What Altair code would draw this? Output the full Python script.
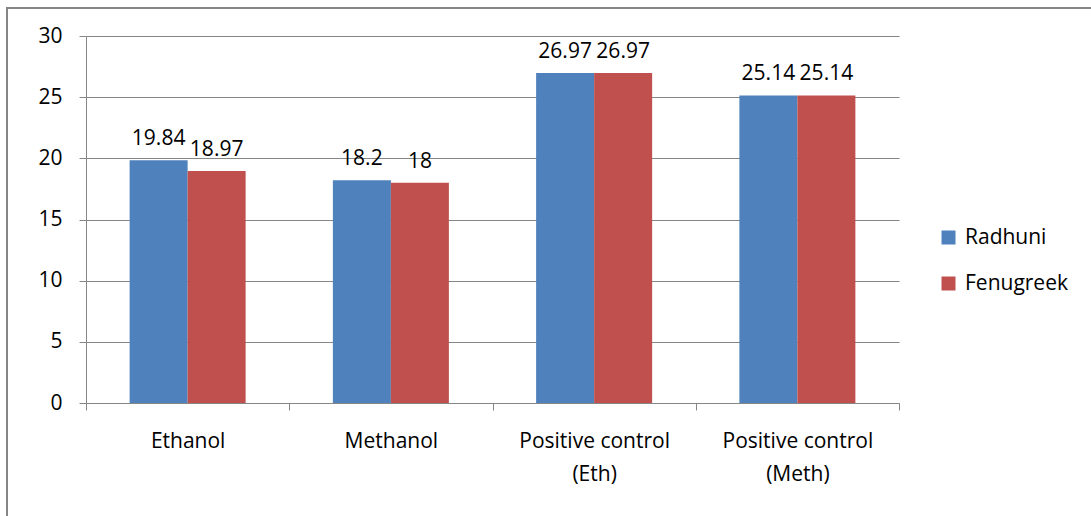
import altair as alt
import pandas as pd

# Inhibition zone values per extract and spice
categories = ["Ethanol", "Methanol", "Positive control|(Eth)", "Positive control|(Meth)"]
series = ["Radhuni", "Fenugreek"]
radhuni = [19.84, 18.2, 26.97, 25.14]
fenugreek = [18.97, 18, 26.97, 25.14]
y_ticks = [0, 5, 10, 15, 20, 25, 30]
colors = ["#4F81BD", "#C0504D"]

rows = []
for c, r, f in zip(categories, radhuni, fenugreek):
    rows.append({"cat": c, "series": series[0], "value": r, "label": f"{r:g}"})
    rows.append({"cat": c, "series": series[1], "value": f, "label": f"{f:g}"})
df = pd.DataFrame(rows)

FONT = "Open Sans"
FS = 21
W, H = 813, 367
LEFT, TOP = 86, 36

x_enc = alt.X(
    "cat:N",
    sort=categories,
    scale=alt.Scale(paddingInner=0, paddingOuter=0),
    axis=alt.Axis(
        title=None,
        labelAngle=0,
        labelExpr="split(datum.label, '|')",
        labelFont=FONT,
        labelFontSize=FS,
        labelColor="#000000",
        labelPadding=20,
        labelLineHeight=33,
        labelBaseline="top",
        tickBand="extent",
        tickSize=7,
        tickColor="#868686",
        domainColor="#868686",
        grid=False,
    ),
)
y_enc = alt.Y(
    "value:Q",
    scale=alt.Scale(domain=[0, 30], nice=False),
    axis=alt.Axis(
        title=None,
        values=y_ticks,
        labelFont=FONT,
        labelFontSize=FS,
        labelColor="#000000",
        labelPadding=17,
        tickSize=7,
        tickColor="#868686",
        domainColor="#868686",
        gridColor="#868686",
        gridWidth=1,
    ),
)
# two bars per category with a 150% gap between groups
off = alt.XOffset(
    "series:N", sort=series, scale=alt.Scale(paddingInner=0, paddingOuter=0.752)
)

bars = alt.Chart(df).mark_bar().encode(
    x=x_enc,
    y=y_enc,
    xOffset=off,
    color=alt.Color(
        "series:N",
        sort=series,
        scale=alt.Scale(domain=series, range=colors),
        legend=alt.Legend(
            title=None,
            orient="none",
            legendX=852,
            legendY=191,
            symbolType="square",
            symbolSize=196,
            symbolStrokeWidth=0,
            labelFont=FONT,
            labelFontSize=FS,
            labelColor="#000000",
            rowPadding=24,
            labelOffset=6,
        ),
    ),
)

labels = alt.Chart(df).mark_text(
    baseline="alphabetic", dy=-15, font=FONT, fontSize=FS, color="#000000"
).encode(x=alt.X("cat:N", sort=categories), y="value:Q", xOffset=off, text="label:N")

# outer chart frame
frame = alt.Chart(df).mark_rect(
    fill=None, stroke="#868686", strokeWidth=1.5, clip=False
).encode(
    x=alt.value(-79), x2=alt.value(1200), y=alt.value(-28), y2=alt.value(600)
)

chart = (
    alt.layer(frame, bars, labels)
    .properties(
        width=W,
        height=H,
        padding={"left": LEFT, "top": TOP, "right": 1091 - LEFT - W, "bottom": 516 - TOP - H},
        autosize=alt.AutoSizeParams(type="none"),
        background="#ffffff",
    )
    .configure_view(stroke=None)
)

chart.save("out.html", embed_options={"renderer": "svg", "actions": False})
